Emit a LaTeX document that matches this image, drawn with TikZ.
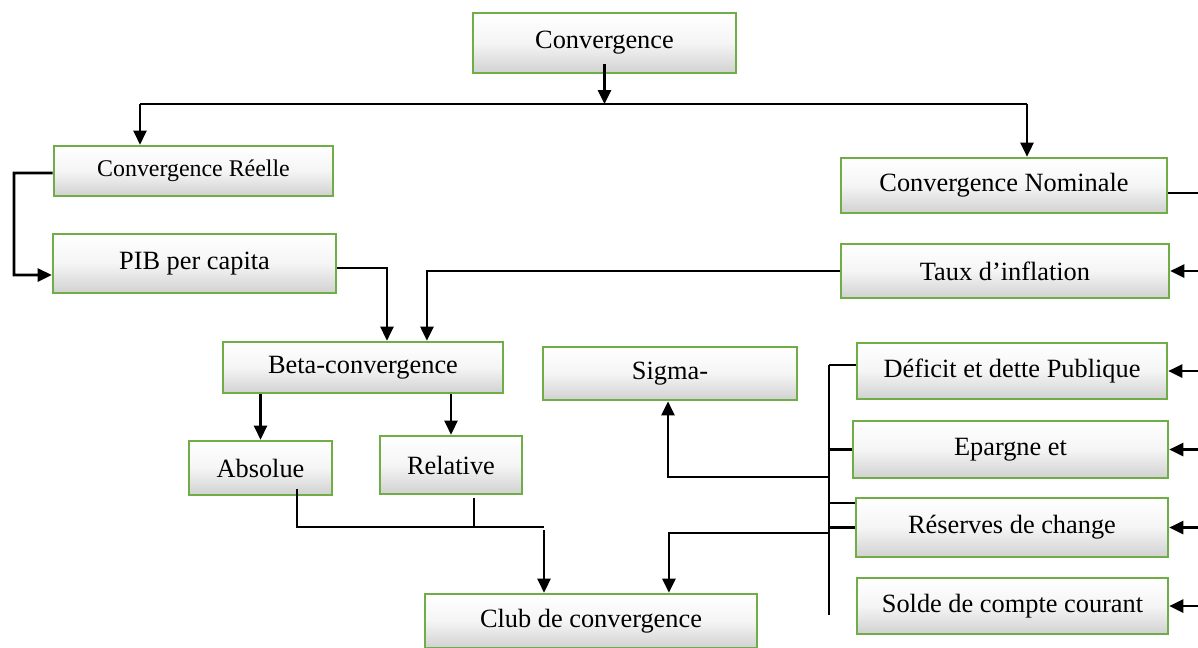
\documentclass[tikz,border=0pt]{standalone}
\usepackage{fontspec}
\setmainfont{Liberation Serif}
\usepackage{xcolor}
\usepackage{tikz}
\usetikzlibrary{arrows.meta}

\definecolor{boxgreen}{RGB}{112,173,71}

\begin{document}
\begin{tikzpicture}[x=0.02cm, y=-0.02cm,
    box/.style={draw=boxgreen, line width=1.5pt, inner sep=0pt,
      top color=white, bottom color=black!18, middle color=white!96!black,
      font=\fontsize{15}{18}\selectfont},
    arr/.style={line width=1.5pt, -{Triangle[length=0.28cm, width=0.26cm]}},
    link/.style={line width=1.5pt}]
      \useasboundingbox (0, 0) rectangle (1198, 647);

      % boxes
      \node [box, minimum width=5.26cm, minimum height=1.2cm] (conv) at (604.5, 43) {Convergence};
      \node [box, minimum width=5.58cm, minimum height=1.0cm, font=\fontsize{13.6}{16}\selectfont] (reelle) at (193.5, 171) {Convergence Réelle};
      \node [box, minimum width=5.66cm, minimum height=1.18cm] (pib) at (194.5, 263.5) {PIB per capita};
      \node [box, minimum width=6.52cm, minimum height=1.1cm] (nominale) at (1004, 185.5) {Convergence Nominale};
      \node [box, minimum width=6.56cm, minimum height=1.08cm] (taux) at (1005, 271) {Taux d’inflation};
      \node [box, minimum width=5.6cm, minimum height=1.02cm] (beta) at (363, 367.5) {Beta-convergence};
      \node [box, minimum width=5.08cm, minimum height=1.06cm] (sigma) at (670, 373.5) {Sigma-};
      \node [box, minimum width=2.86cm, minimum height=1.08cm] (absolue) at (260.5, 468) {Absolue};
      \node [box, minimum width=2.84cm, minimum height=1.16cm] (relative) at (451, 465) {Relative};
      \node [box, minimum width=6.64cm, minimum height=1.08cm] (club) at (591, 621) {Club de convergence};
      \node [box, minimum width=6.2cm, minimum height=1.12cm] (deficit) at (1012, 371) {Déficit et dette Publique};
      \node [box, minimum width=6.3cm, minimum height=1.14cm] (epargne) at (1010.5, 449.5) {Epargne et};
      \node [box, minimum width=6.24cm, minimum height=1.18cm] (reserves) at (1012, 527.5) {Réserves de change};
      \node [box, minimum width=6.22cm, minimum height=1.12cm] (solde) at (1012.5, 606) {Solde de compte courant};

      \coordinate (busL) at (140, 104);
      \coordinate (busR) at (1027, 104);
      \coordinate (join) at (544, 527);
      \coordinate (trunkT) at (829, 365);
      \coordinate (trunkB) at (829, 615);
      \coordinate (sigmaJ) at (829, 477);
      \coordinate (clubJ) at (829, 533);
      \coordinate (edge) at (1198, 0);

      % top level
      \draw [link] (busL) -- (busR);
      \draw [arr] ([yshift=0.2cm]conv.south) -- (conv.south |- busL);
      \draw [arr] (busL) -- (busL |- reelle.north);
      \draw [arr] (busR) -- (busR |- nominale.north);

      % real convergence
      \draw [arr] ([yshift=-0.04cm]reelle.west) -- (14, 173) |- ([yshift=-0.23cm]pib.west);
      \draw [arr] ([yshift=-0.09cm]pib.east) -| ([xshift=0.48cm]beta.north);
      \draw [arr] (taux.west) -| ([xshift=1.28cm]beta.north);
      \draw [arr] (beta.south -| absolue.north) -- (absolue.north);
      \draw [arr] (beta.south -| relative.north) -- (relative.north);
      \draw [link] ([xshift=0.73cm, yshift=0.14cm]absolue.south) |- (join);
      \draw [link] ([xshift=0.46cm, yshift=-0.06cm]relative.south) -- ++(0, 30);
      \draw [arr] ([yshift=-0.06cm]join) -- (join |- club.north);

      % nominal convergence
      \draw [link] ([yshift=-0.15cm]nominale.east) -- ([yshift=-0.15cm]nominale.east -| edge);
      \foreach \n in {taux, deficit, epargne, reserves, solde}
        \draw [arr] (\n.east -| edge) -- (\n.east);
      \draw [link] (trunkT) -- (trunkB);
      \draw [link] (trunkT) -- (trunkT -| deficit.west);
      \draw [link] (epargne.west -| trunkT) -- (epargne.west);
      \draw [link] ([yshift=0.49cm]reserves.west -| trunkT) -- ([yshift=0.49cm]reserves.west);
      \draw [link] (reserves.west -| trunkT) -- (reserves.west);
      \draw [arr] (sigmaJ) -| ([xshift=-0.04cm]sigma.south);
      \draw [arr] (clubJ) -| ([xshift=1.56cm]club.north);

     \end{tikzpicture}
\end{document}
